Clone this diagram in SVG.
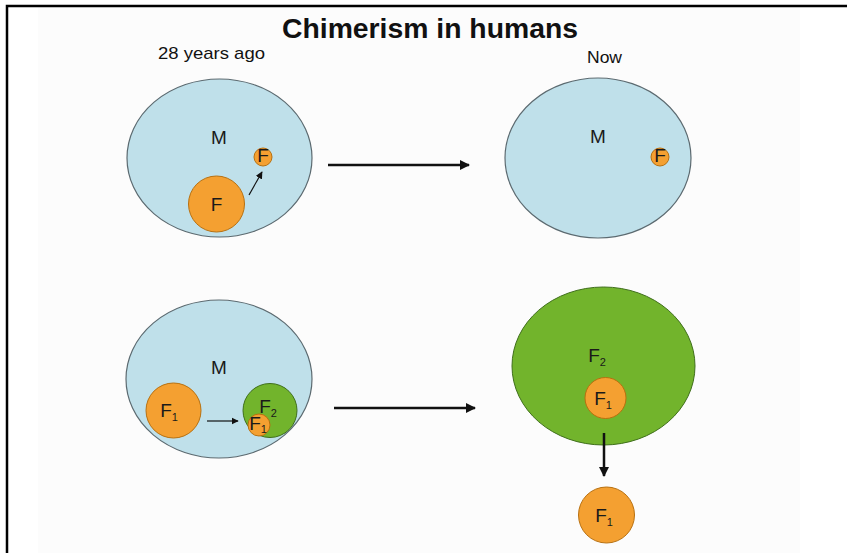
<svg xmlns="http://www.w3.org/2000/svg" width="847" height="553" viewBox="0 0 847 553">
<style>
.t{font-family:"Liberation Sans",Arial,sans-serif;fill:#111}
.cell{fill:#bfe0ea;stroke:#5c6a70;stroke-width:1.2}
.fo{fill:#f4a031;stroke:#b8700f;stroke-width:1}
.gr{fill:#72b42c;stroke:#3f6f1b;stroke-width:1}
.lbl{font-family:"Liberation Sans",Arial,sans-serif;font-size:19px;fill:#1a1a1a;text-anchor:middle}
.sub{font-size:11px}
.conn line{stroke:#111;fill:none}
</style>
<defs>
<marker id="ah" viewBox="0 0 10 10" refX="9" refY="5" markerWidth="4" markerHeight="4" orient="auto" markerUnits="strokeWidth">
<path d="M0,0 L10,5 L0,10 z" fill="#111"/>
</marker>
<marker id="ahs" viewBox="0 0 10 10" refX="9" refY="5" markerWidth="6" markerHeight="6" orient="auto" markerUnits="strokeWidth">
<path d="M0,0 L10,5 L0,10 z" fill="#111"/>
</marker>
</defs>
<rect x="0" y="0" width="847" height="553" fill="#ffffff"/>
<rect x="38" y="7" width="762" height="546" fill="#fcfcfc"/>
<path d="M7,553 L7,6 L847,6" fill="none" stroke="#000" stroke-width="2.5"/>

<text class="t" x="430" y="38" font-size="27" font-weight="bold" text-anchor="middle" textLength="296" lengthAdjust="spacingAndGlyphs">Chimerism in humans</text>
<text class="t" x="211.5" y="59" font-size="17" text-anchor="middle" textLength="107" lengthAdjust="spacingAndGlyphs">28 years ago</text>
<text class="t" x="604.5" y="63" font-size="17" text-anchor="middle" textLength="35" lengthAdjust="spacingAndGlyphs">Now</text>

<g id="mother-past">
<ellipse class="cell" cx="219.5" cy="158" rx="92.5" ry="79"/>
<text class="lbl" x="219" y="144">M</text>
</g>
<g id="fetus-past">
<circle class="fo" cx="216.5" cy="204" r="28"/>
<text class="lbl" x="216.5" y="211">F</text>
</g>
<g id="fetal-cell-past">
<circle class="fo" cx="263" cy="157" r="9"/>
<text class="lbl" x="263" y="162" font-size="14">F</text>
</g>

<g id="mother-now">
<ellipse class="cell" cx="598" cy="158" rx="93" ry="80"/>
<text class="lbl" x="598" y="143">M</text>
</g>
<g id="fetal-cell-now">
<circle class="fo" cx="660" cy="157" r="9"/>
<text class="lbl" x="660" y="162" font-size="14">F</text>
</g>

<g id="mother-2">
<ellipse class="cell" cx="219" cy="379" rx="93" ry="79"/>
<text class="lbl" x="219" y="374">M</text>
</g>
<g id="fetus-1">
<circle class="fo" cx="173.5" cy="410.5" r="27.5"/>
<text class="lbl" x="169" y="417">F<tspan class="sub" dy="4">1</tspan></text>
</g>
<g id="fetus-2">
<circle class="gr" cx="270" cy="410.5" r="27"/>
<text class="lbl" x="268" y="413">F<tspan class="sub" dy="4">2</tspan></text>
</g>
<g id="f1-in-f2">
<circle class="fo" cx="259" cy="425" r="11"/>
<text class="lbl" x="258" y="430" font-size="14">F<tspan class="sub" font-size="8" dy="3">1</tspan></text>
</g>

<g id="fetus-2-now">
<ellipse class="gr" cx="603.5" cy="366" rx="91.5" ry="79"/>
<text class="lbl" x="597" y="362">F<tspan class="sub" dy="4">2</tspan></text>
</g>
<g id="f1-in-f2-now">
<circle class="fo" cx="605.5" cy="398" r="20.5"/>
<text class="lbl" x="603" y="405" font-size="17">F<tspan class="sub" font-size="10" dy="4">1</tspan></text>
</g>
<g id="f1-now">
<circle class="fo" cx="606.5" cy="515" r="28"/>
<text class="lbl" x="604" y="522" font-size="17">F<tspan class="sub" font-size="10" dy="4">1</tspan></text>
</g>

<g class="conn" id="connectors">
<line x1="249" y1="195" x2="262" y2="172" stroke-width="1.2" marker-end="url(#ahs)"/>
<line x1="328" y1="165" x2="469" y2="165" stroke-width="2.5" marker-end="url(#ah)"/>
<line x1="207" y1="421" x2="238" y2="421" stroke-width="1.2" marker-end="url(#ahs)"/>
<line x1="334" y1="408" x2="475" y2="408" stroke-width="2.5" marker-end="url(#ah)"/>
<line x1="604" y1="433" x2="604" y2="476" stroke-width="2.5" marker-end="url(#ah)"/>
</g>
</svg>
